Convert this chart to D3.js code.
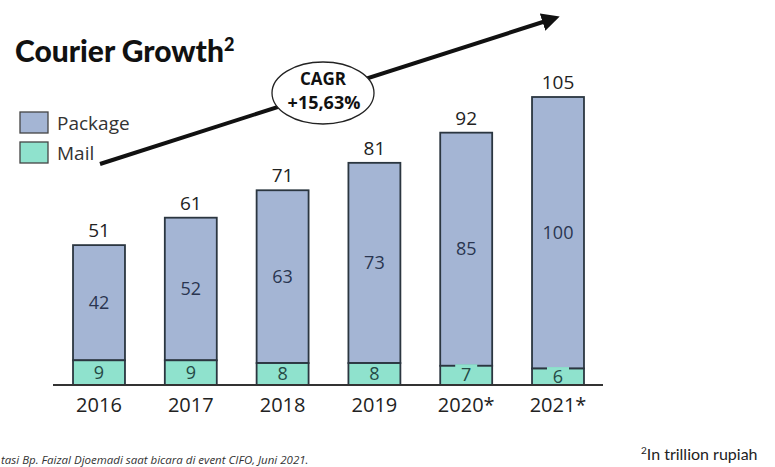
<!DOCTYPE html>
<html>
<head>
<meta charset="utf-8">
<script src="https://cdn.jsdelivr.net/npm/d3@7"></script>
<style>
  body { margin: 0; background: #fff; }
  svg { display: block; }
</style>
</head>
<body>
<svg id="chart" width="775" height="467"></svg>
<script>
// data (trillion rupiah)
var years = ["2016", "2017", "2018", "2019", "2020*", "2021*"]
var packageVals = [42, 52, 63, 73, 85, 100]
var mailVals = [9, 9, 8, 8, 7, 6]
var totals = [51, 61, 71, 81, 92, 105]

var pkgColor = "#a4b5d4"
var mailColor = "#8fe2cd"
var edge = "#2b3640"

var svg = d3.select("#chart")

var x = d3.scaleBand().domain(years).range([53, 604]).paddingInner(0.434).paddingOuter(0.218)
var y = d3.scaleLinear().domain([0, 105]).range([385, 97])

// growth arrow + CAGR bubble
var defs = svg.append("defs")
defs.append("marker")
    .attr("id", "head")
    .attr("viewBox", "0 0 10 10")
    .attr("refX", 2).attr("refY", 5)
    .attr("markerWidth", 4.5).attr("markerHeight", 4.5)
    .attr("orient", "auto")
  .append("path")
    .attr("d", "M0,0 L10,5 L0,10 z")
    .attr("fill", "#111")

svg.append("line")
    .attr("x1", 100).attr("y1", 164)
    .attr("x2", 546).attr("y2", 21)
    .attr("stroke", "#111")
    .attr("stroke-width", 4)
    .attr("marker-end", "url(#head)")

svg.append("ellipse")
    .attr("cx", 323).attr("cy", 93)
    .attr("rx", 51).attr("ry", 31)
    .attr("fill", "#fff")
    .attr("stroke", "#222")
    .attr("stroke-width", 1.3)

svg.append("text")
    .attr("x", 323).attr("y", 85)
    .attr("text-anchor", "middle")
    .style("font", "bold 17px 'Open Sans', sans-serif")
    .attr("fill", "#111")
    .text("CAGR")
svg.append("text")
    .attr("x", 324).attr("y", 109)
    .attr("text-anchor", "middle")
    .style("font", "bold 18px 'Open Sans', sans-serif")
    .attr("fill", "#111")
    .text("+15,63%")

// title
var title = svg.append("text")
    .attr("x", 15).attr("y", 62)
    .style("font", "900 30px 'Lato', sans-serif")
    .attr("fill", "#111")
title.append("tspan").text("Courier Growth")
title.append("tspan").attr("dy", -11).style("font-size", "18px").text("2")

// legend
var legend = [["Package", pkgColor], ["Mail", mailColor]]
var lg = svg.selectAll(".lg").data(legend).enter().append("g")
    .attr("transform", function(d, i) { return "translate(20," + (112 + i * 30) + ")" })
lg.append("rect")
    .attr("width", 28).attr("height", 21)
    .attr("fill", function(d) { return d[1] })
    .attr("stroke", "#444").attr("stroke-width", 1.3)
lg.append("text")
    .attr("x", 37).attr("y", 18)
    .style("font", "19px 'Open Sans', sans-serif")
    .attr("fill", "#333")
    .text(function(d) { return d[0] })

// bars
var bars = svg.selectAll(".bar").data(years).enter().append("g").attr("class", "bar")

bars.append("rect")
    .attr("x", function(d) { return x(d) })
    .attr("y", function(d, i) { return y(totals[i]) })
    .attr("width", x.bandwidth())
    .attr("height", function(d, i) { return y(mailVals[i]) - y(totals[i]) })
    .attr("fill", pkgColor)
    .attr("stroke", edge).attr("stroke-width", 1.8)

bars.append("rect")
    .attr("x", function(d) { return x(d) })
    .attr("y", function(d, i) { return y(mailVals[i]) })
    .attr("width", x.bandwidth())
    .attr("height", function(d, i) { return y(0) - y(mailVals[i]) })
    .attr("fill", mailColor)
    .attr("stroke", edge).attr("stroke-width", 1.8)

// mail labels (2020/2021 cover the divider)
bars.filter(function(d, i) { return i >= 4 })
  .append("rect")
    .attr("x", function(d) { return x(d) + x.bandwidth() / 2 - 11 })
    .attr("y", function(d, i) { return y(mailVals[i + 4]) - 1.5 })
    .attr("width", 22).attr("height", 4)
    .attr("fill", mailColor)

bars.append("text")
    .attr("x", function(d) { return x(d) + x.bandwidth() / 2 })
    .attr("y", function(d, i) { return (y(0) + y(mailVals[i])) / 2 + 6 })
    .attr("text-anchor", "middle")
    .style("font", "18px 'Open Sans', sans-serif")
    .attr("fill", "#254a46")
    .text(function(d, i) { return mailVals[i] })

bars.append("text")
    .attr("x", function(d) { return x(d) + x.bandwidth() / 2 })
    .attr("y", function(d, i) { return (y(totals[i]) + y(mailVals[i])) / 2 + 6 })
    .attr("text-anchor", "middle")
    .style("font", "18px 'Open Sans', sans-serif")
    .attr("fill", "#2a3550")
    .text(function(d, i) { return packageVals[i] })

bars.append("text")
    .attr("x", function(d) { return x(d) + x.bandwidth() / 2 })
    .attr("y", function(d, i) { return y(totals[i]) - 8 })
    .attr("text-anchor", "middle")
    .style("font", "19px 'Open Sans', sans-serif")
    .attr("fill", "#222")
    .text(function(d, i) { return totals[i] })

// x axis
var xAxis = svg.append("g")
    .attr("transform", "translate(0," + y(0) + ")")
    .call(d3.axisBottom(x).tickSize(0).tickPadding(13))
xAxis.select(".domain").attr("stroke", "#333").attr("stroke-width", 2).attr("d", "M53,0H603")
xAxis.selectAll("text")
    .style("font", "20px 'Open Sans', sans-serif")
    .attr("fill", "#222")

// footnotes
svg.append("text")
    .attr("x", 1).attr("y", 464)
    .style("font", "italic 11.5px 'Open Sans', sans-serif")
    .attr("fill", "#333")
    .text("tasi Bp. Faizal Djoemadi saat bicara di event CIFO, Juni 2021.")

var fn = svg.append("text")
    .attr("x", 641).attr("y", 460)
    .style("font", "16px 'Lato', sans-serif")
    .attr("fill", "#222")
fn.append("tspan").attr("dy", -6).style("font-size", "10px").text("2")
fn.append("tspan").attr("dy", 6).text("In trillion rupiah")
</script>
</body>
</html>
